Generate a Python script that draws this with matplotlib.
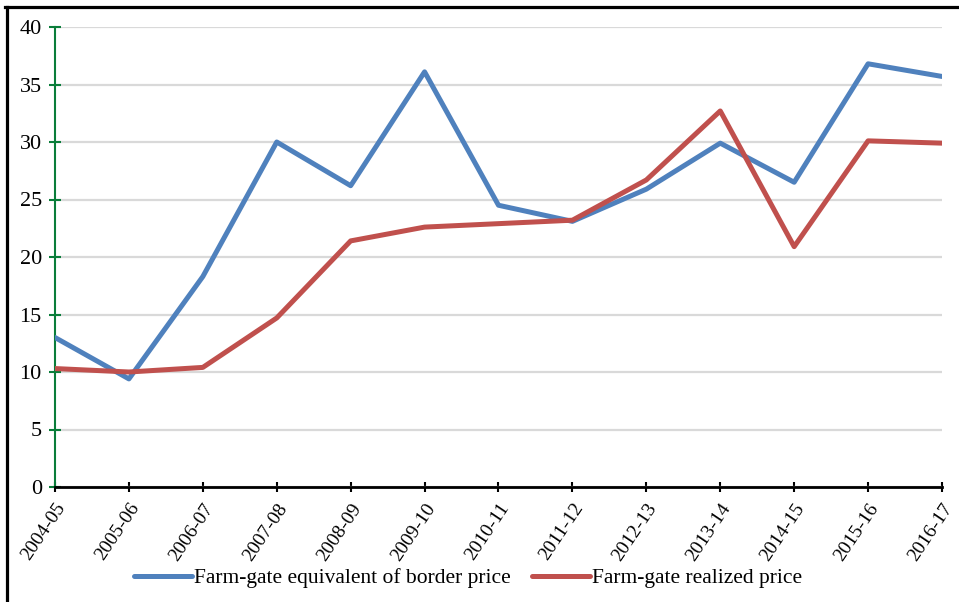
import matplotlib
matplotlib.use("Agg")
import matplotlib.pyplot as plt
from matplotlib.lines import Line2D

# Data
years = ["2004-05", "2005-06", "2006-07", "2007-08", "2008-09", "2009-10", "2010-11",
         "2011-12", "2012-13", "2013-14", "2014-15", "2015-16", "2016-17"]
border_price = [13.0, 9.4, 18.3, 30.0, 26.2, 36.1, 24.5, 23.1, 25.9, 29.9, 26.5, 36.8, 35.7]
realized_price = [10.3, 10.0, 10.4, 14.7, 21.4, 22.6, 22.9, 23.2, 26.7, 32.7, 20.9, 30.1, 29.9]

BLUE = "#4f81bd"
RED = "#c0504d"
GREEN = "#0a7d3a"
W, H = 959, 602

plt.rcParams.update({
    "font.family": ["Liberation Serif", "DejaVu Serif"],
    "font.size": 15,
})

fig = plt.figure(figsize=(W / 100, H / 100), dpi=100)
ax = fig.add_axes([55 / W, 1 - 487 / H, (942 - 55) / W, (487 - 27) / H])

x = list(range(len(years)))
ax.plot(x, border_price, color=BLUE, linewidth=3.6, solid_capstyle="round",
        label="Farm-gate equivalent of border price", zorder=3)
ax.plot(x, realized_price, color=RED, linewidth=3.6, solid_capstyle="round",
        label="Farm-gate realized price", zorder=3)

ax.set_xlim(0, len(years) - 1)
ax.set_ylim(0, 40)
ax.set_yticks(range(0, 41, 5))
ax.set_xticks(x)
ax.set_xticklabels(years, rotation=56, ha="right", rotation_mode="anchor", fontsize=14)
ax.yaxis.grid(True, color="#d9d9d9", linewidth=1.6)
ax.set_axisbelow(True)

for side in ["top", "right"]:
    ax.spines[side].set_visible(False)
ax.spines["left"].set_color(GREEN)
ax.spines["left"].set_linewidth(1.5)
ax.spines["bottom"].set_color("black")
ax.spines["bottom"].set_linewidth(2)
ax.spines["bottom"].set_zorder(4)

ax.tick_params(axis="y", direction="inout", length=9, width=1.5, color=GREEN,
               pad=5, labelsize=16)
ax.tick_params(axis="x", direction="inout", length=7, width=1.5, color="black", pad=6)

fig.legend(loc="center", bbox_to_anchor=(468 / W, 1 - 578 / H), ncol=2, frameon=False,
           fontsize=15.5, handlelength=2.7, handletextpad=0.1, columnspacing=1.0)

# frame of the original figure box
fig.add_artist(Line2D([5 / W, 1], [1 - 7 / H, 1 - 7 / H], color="black", linewidth=2.3,
                      transform=fig.transFigure))
fig.add_artist(Line2D([6.5 / W, 6.5 / W], [0, 1 - 7 / H], color="black", linewidth=2.3,
                      transform=fig.transFigure))

fig.savefig("out.png", dpi=100)
plt.close(fig)
